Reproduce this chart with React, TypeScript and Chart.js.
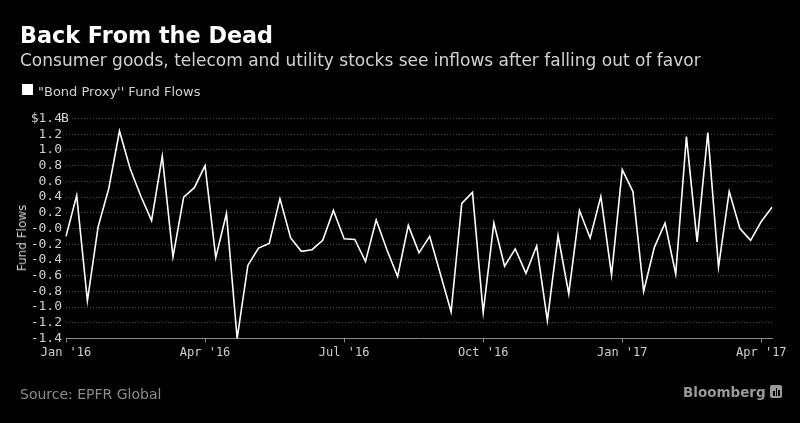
import React, { useEffect, useRef } from "react";
import { Chart, registerables } from "chart.js";

Chart.register(...registerables);

// Weekly "bond proxy" fund flows, $ billions (Jan 2016 – Apr 2017)
const flows: number[] = [
  -0.1, 0.42, -0.92, 0.02, 0.51, 1.24, 0.76, 0.41, 0.1, 0.92, -0.36, 0.4, 0.52,
  0.8, -0.37, 0.19, -1.4, -0.47, -0.25, -0.19, 0.38, -0.12, -0.29, -0.27, -0.15, 0.23,
  -0.13, -0.14, -0.42, 0.11, -0.27, -0.61, 0.04, -0.31, -0.1, -0.58, -1.06, 0.32, 0.46,
  -1.07, 0.07, -0.48, -0.26, -0.57, -0.22, -1.17, -0.09, -0.83, 0.23, -0.12, 0.41, -0.59,
  0.75, 0.47, -0.8, -0.24, 0.07, -0.58, 1.17, -0.17, 1.22, -0.49, 0.47, 0.0, -0.15,
  0.09, 0.27,
];

// One category per week
const weekLabels: string[] = flows.map((_, i) => `W${i + 1}`);

const tickIndices: number[] = [0, 13, 26, 39, 52, 65];
const tickLabels: string[] = ["Jan '16", "Apr '16", "Jul '16", "Oct '16", "Jan '17", "Apr '17"];

const yMin = -1.4;
const yMax = 1.4;
const yStep = 0.2;

const TITLE = "Back From the Dead";
const SUBTITLE = "Consumer goods, telecom and utility stocks see inflows after falling out of favor";
const LEGEND = "\"Bond Proxy'' Fund Flows";
const Y_TITLE = "Fund Flows";
const SOURCE = "Source: EPFR Global";

const SANS = "'DejaVu Sans', Verdana, sans-serif";
const MONO = "'DejaVu Sans Mono', monospace";

export default function App() {
  const canvasRef = useRef<HTMLCanvasElement | null>(null);

  useEffect(() => {
    document.body.style.margin = "0";
    document.body.style.background = "#000";
    const canvas = canvasRef.current;
    if (!canvas) return;

    const unitPlugin = {
      id: "unitSuffix",
      afterDraw(chart: any) {
        const ys = chart.scales.y;
        const ctx = chart.ctx;
        ctx.save();
        ctx.font = `13px ${MONO}`;
        ctx.fillStyle = "#d0d0d0";
        ctx.textAlign = "left";
        ctx.textBaseline = "middle";
        ctx.fillText("B", 61, ys.getPixelForValue(yMax));
        ctx.restore();
      },
    };

    const chart = new Chart(canvas, {
      type: "line",
      data: {
        labels: weekLabels,
        datasets: [
          {
            label: LEGEND,
            data: flows,
            borderColor: "#ffffff",
            borderWidth: 1.6,
            pointRadius: 0,
            tension: 0,
            fill: false,
          },
        ],
      },
      options: {
        animation: false,
        responsive: false,
        maintainAspectRatio: false,
        layout: { padding: { left: 0, right: 28, top: 118.5, bottom: 0 } },
        plugins: { legend: { display: false }, tooltip: { enabled: false } },
        scales: {
          x: {
            type: "category",
            offset: false,
            afterBuildTicks: (s: any) => {
              s.ticks = s.ticks.filter((t: any) => tickIndices.includes(t.value));
            },
            afterFit: (s: any) => {
              s.height = 423 - 338.5;
            },
            ticks: {
              autoSkip: false,
              maxRotation: 0,
              minRotation: 0,
              padding: 3,
              color: "#d0d0d0",
              font: { family: MONO, size: 12 },
              callback: (_v: any, i: number) => tickLabels[i],
            },
            grid: {
              display: true,
              drawOnChartArea: false,
              drawTicks: true,
              tickLength: 4,
              tickColor: "#8a8a8a",
              tickWidth: 1,
            },
            border: { display: true, color: "#8a8a8a", width: 1 },
          },
          y: {
            min: yMin,
            max: yMax,
            afterFit: (s: any) => {
              s.width = 66;
            },
            ticks: {
              stepSize: yStep,
              autoSkip: false,
              padding: 4,
              color: "#d0d0d0",
              font: { family: MONO, size: 13 },
              callback: (v: any) => {
                const n = Number(v);
                if (Math.abs(n - yMax) < 1e-9) return "$" + yMax.toFixed(1);
                if (Math.abs(n) < 1e-9) return "-0.0";
                return n.toFixed(1);
              },
            },
            grid: { color: "#4a4a4a", lineWidth: 1, drawTicks: false },
            border: { display: false, dash: [1, 2] },
          },
        },
      },
      plugins: [unitPlugin],
    });

    return () => chart.destroy();
  }, []);

  const text = (style: React.CSSProperties): React.CSSProperties => ({
    position: "absolute",
    whiteSpace: "nowrap",
    lineHeight: 1,
    fontFamily: SANS,
    margin: 0,
    ...style,
  });

  return (
    <div
      style={{
        position: "fixed",
        left: 0,
        top: 0,
        width: 800,
        height: 423,
        background: "#000",
        overflow: "hidden",
      }}
    >
      <canvas
        ref={canvasRef}
        width={800}
        height={423}
        style={{ position: "absolute", left: 0, top: 0, width: 800, height: 423 }}
      />
      <div style={text({ left: 20, top: 23.8, fontSize: 22.3, fontWeight: "bold", color: "#ffffff" })}>{TITLE}</div>
      <div style={text({ left: 20, top: 51.5, fontSize: 17, color: "#d2d2d2" })}>{SUBTITLE}</div>
      <div
        style={{ position: "absolute", left: 22, top: 84, width: 11, height: 11, background: "#ffffff" }}
      />
      <div style={text({ left: 38, top: 84.5, fontSize: 13, color: "#d0d0d0" })}>{LEGEND}</div>
      <div
        style={text({
          left: 22,
          top: 237.5,
          fontSize: 12,
          color: "#d0d0d0",
          transform: "translate(-50%, -50%) rotate(-90deg)",
        })}
      >
        {Y_TITLE}
      </div>
      <div style={text({ left: 20, top: 386.5, fontSize: 14, color: "#8c8c8c" })}>{SOURCE}</div>
      <div
        style={text({ left: 683, top: 385.5, fontSize: 13.5, fontWeight: "bold", color: "#9a9a9a" })}
      >
        Bloomberg
      </div>
      <div
        style={{
          position: "absolute",
          left: 770,
          top: 385,
          width: 12,
          height: 13,
          background: "#9a9a9a",
          borderRadius: 2,
        }}
      >
        <div style={{ position: "absolute", left: 3, top: 6, width: 1.5, height: 5, background: "#000" }} />
        <div style={{ position: "absolute", left: 5.5, top: 3, width: 1.5, height: 8, background: "#000" }} />
        <div style={{ position: "absolute", left: 8, top: 5, width: 1.5, height: 6, background: "#000" }} />
      </div>
    </div>
  );
}
